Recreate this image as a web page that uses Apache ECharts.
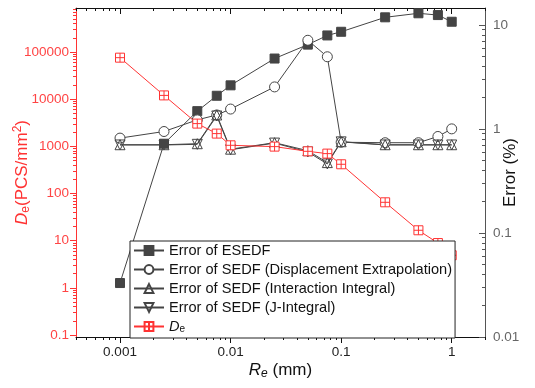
<!DOCTYPE html>
<html>
<head>
<meta charset="utf-8">
<script src="https://cdn.jsdelivr.net/npm/echarts@6/dist/echarts.min.js"></script>
<style>
html, body { margin: 0; padding: 0; background: #fff; }
#chart { width: 535px; height: 388px; }
</style>
</head>
<body>
<div id="chart"></div>
<script>
// Re (mm)
var re = [0.001, 0.0025, 0.005, 0.0075, 0.01, 0.025, 0.05, 0.075, 0.1, 0.25, 0.5, 0.75, 1]
// Error (%)
var errEsedf = [0.033, 0.72, 1.48, 2.08, 2.62, 4.74, 6.45, 7.9, 8.57, 11.8, 12.9, 12.4, 10.7]
var errDisp = [0.815, 0.943, 1.22, 1.36, 1.55, 2.53, 7.1, 4.93, 0.744, 0.736, 0.736, 0.845, 1.0]
var errInter = [0.704, 0.704, 0.72, 1.36, 0.638, 0.736, 0.617, 0.474, 0.752, 0.704, 0.704, 0.704, 0.704]
var errJ = [0.70, 0.70, 0.71, 1.33, 0.63, 0.73, 0.60, 0.46, 0.75, 0.70, 0.70, 0.70, 0.70]
// De (PCS/mm2)
var de = [75700, 12000, 3030, 1860, 1050, 985, 783, 700, 416, 65, 16.6, 8.9, 4.9]

// ticks
var xMajor = [0.001, 0.01, 0.1, 1]
var deMajor = [0.1, 1, 10, 100, 1000, 10000, 100000]
var errMajor = [0.01, 0.1, 1, 10]

var xRange = [0.0004, 2]
var deRange = [0.0907, 855000]
var errRange = [0.01, 14.5]

function minors (lo, hi) {
  var res = []
  for (var k = -5; k <= 6; k++) {
    for (var d = 2; d <= 9; d++) {
      var v = +(d * Math.pow(10, k)).toPrecision(6)
      if (v >= lo && v <= hi) res.push(v)
    }
  }
  return res
}

var RED = '#f33'
var GREY = '#444'
var FONT = 'Arial, "Liberation Sans", sans-serif'

function fmt (v) { return String(+(+v).toPrecision(6)) }

function logAxis (range, opt) {
  var base = {
    type: 'log',
    logBase: 10,
    min: range[0],
    max: range[1],
    splitLine: { show: false },
    axisLine: { show: false },
    axisLabel: { show: false },
    axisTick: { show: true },
    axisPointer: { show: false }
  }
  return Object.assign(base, opt)
}

var chart = echarts.init(document.getElementById('chart'))
var sym = 10

var option = {
  animation: false,
  grid: { left: 76, right: 50, top: 8, bottom: 51, containLabel: false, outerBoundsMode: 'none' },
  textStyle: { fontFamily: FONT },
  legend: {
    orient: 'vertical',
    left: 130,
    top: 241,
    padding: [2, 3, 4, 3],
    itemGap: 4,
    itemWidth: 30,
    itemHeight: 11,
    backgroundColor: '#fff',
    borderColor: '#222',
    borderWidth: 1,
    textStyle: {
      fontFamily: FONT, fontSize: 14.6, color: '#111', lineHeight: 15,
      rich: {
        i: { fontFamily: FONT, fontSize: 14.6, fontStyle: 'italic', color: '#111', lineHeight: 15 },
        s: { fontFamily: FONT, fontSize: 10, color: '#111', lineHeight: 8, verticalAlign: 'bottom' }
      }
    },
    formatter: function (name) {
      if (name === 'De') return '{i|D}{s|e}'
      return name
    },
    data: ['Error of ESEDF', 'Error of SEDF (Displacement Extrapolation)',
      'Error of SEDF (Interaction Integral)', 'Error of SEDF (J-Integral)', 'De']
  },
  xAxis: [
    logAxis(xRange, {
      position: 'bottom',
      axisLine: { show: true, lineStyle: { color: '#111', width: 1 } },
      axisTick: { show: true, length: 6, customValues: xMajor, lineStyle: { color: '#111' } },
      axisLabel: { show: true, customValues: xMajor, formatter: fmt, color: '#222', fontSize: 13.5, fontFamily: FONT, margin: 8 },
      name: '{i|R}{s|e} (mm)',
      nameLocation: 'middle',
      nameGap: 23,
      nameMoveOverlap: false,
      nameTextStyle: {
        color: '#111', fontSize: 17, fontFamily: FONT,
        rich: {
          i: { fontSize: 17, fontStyle: 'italic', fontFamily: FONT, color: '#111', lineHeight: 20 },
          s: { fontSize: 12, fontStyle: 'italic', fontFamily: FONT, color: '#111', lineHeight: 10, verticalAlign: 'bottom' }
        }
      }
    }),
    logAxis(xRange, {
      position: 'bottom',
      axisTick: { show: true, length: 3, customValues: minors(xRange[0], xRange[1]), lineStyle: { color: '#111' } }
    }),
    logAxis(xRange, {
      position: 'top',
      axisLine: { show: true, lineStyle: { color: '#111', width: 1 } },
      axisTick: { show: true, inside: true, length: 6, customValues: xMajor, lineStyle: { color: '#111' } }
    }),
    logAxis(xRange, {
      position: 'top',
      axisTick: { show: true, inside: true, length: 3, customValues: minors(xRange[0], xRange[1]), lineStyle: { color: '#111' } }
    })
  ],
  yAxis: [
    logAxis(deRange, {
      position: 'left',
      axisLine: { show: true, lineStyle: { color: RED, width: 1 } },
      axisTick: { show: true, length: 6, customValues: deMajor, lineStyle: { color: RED } },
      axisLabel: { show: true, customValues: deMajor, formatter: fmt, color: '#f44', fontSize: 13.5, fontFamily: FONT, margin: 7 },
      name: '{i|D}{s|e}{n|(PCS/mm}{p|2}{n|)}',
      nameLocation: 'middle',
      nameRotate: 90,
      nameGap: 44,
      nameMoveOverlap: false,
      nameTextStyle: {
        color: RED, fontSize: 17, fontFamily: FONT,
        rich: {
          i: { fontSize: 17, fontStyle: 'italic', fontFamily: FONT, color: RED, lineHeight: 20 },
          n: { fontSize: 17, fontFamily: FONT, color: RED, lineHeight: 20 },
          s: { fontSize: 12, fontFamily: FONT, color: RED, lineHeight: 10, verticalAlign: 'bottom' },
          p: { fontSize: 12, fontFamily: FONT, color: RED, lineHeight: 10, verticalAlign: 'top' }
        }
      }
    }),
    logAxis(deRange, {
      position: 'left',
      axisTick: { show: true, length: 3, customValues: minors(deRange[0], deRange[1]), lineStyle: { color: RED } }
    }),
    logAxis(errRange, {
      position: 'right',
      axisLine: { show: true, lineStyle: { color: '#555', width: 1 } },
      axisTick: { show: true, inside: true, length: 6, customValues: errMajor, lineStyle: { color: '#555' } },
      axisLabel: { show: true, customValues: errMajor, formatter: fmt, color: '#666', fontSize: 13.5, fontFamily: FONT, margin: 8 },
      name: 'Error (%)',
      nameLocation: 'middle',
      nameRotate: 90,
      nameGap: 17,
      nameMoveOverlap: false,
      nameTextStyle: { color: '#111', fontSize: 17, fontFamily: FONT }
    }),
    logAxis(errRange, {
      position: 'right',
      axisTick: { show: true, inside: true, length: 3, customValues: minors(errRange[0], errRange[1]), lineStyle: { color: '#555' } }
    })
  ],
  series: [
    {
      name: 'Error of ESEDF',
      type: 'line',
      xAxisIndex: 0,
      yAxisIndex: 2,
      data: re.map(function (x, i) { return [x, errEsedf[i]] }),
      symbol: 'rect',
      symbolSize: 9,
      lineStyle: { color: GREY, width: 1 },
      itemStyle: { color: GREY, borderColor: GREY, borderWidth: 1 }
    },
    {
      name: 'Error of SEDF (Displacement Extrapolation)',
      type: 'line',
      xAxisIndex: 0,
      yAxisIndex: 2,
      data: re.map(function (x, i) { return [x, errDisp[i]] }),
      symbol: 'circle',
      symbolSize: sym,
      showAllSymbol: true,
      lineStyle: { color: GREY, width: 1 },
      itemStyle: { color: '#fff', borderColor: GREY, borderWidth: 1 }
    },
    {
      name: 'Error of SEDF (Interaction Integral)',
      type: 'line',
      xAxisIndex: 0,
      yAxisIndex: 2,
      data: re.map(function (x, i) { return [x, errInter[i]] }),
      symbol: 'triangle',
      symbolSize: sym,
      lineStyle: { color: GREY, width: 1 },
      itemStyle: { color: 'rgba(255,255,255,0)', borderColor: GREY, borderWidth: 1 }
    },
    {
      name: 'Error of SEDF (J-Integral)',
      type: 'line',
      xAxisIndex: 0,
      yAxisIndex: 2,
      data: re.map(function (x, i) { return [x, errJ[i]] }),
      symbol: 'triangle',
      symbolRotate: 180,
      symbolSize: sym,
      lineStyle: { color: GREY, width: 1 },
      itemStyle: { color: 'rgba(255,255,255,0)', borderColor: GREY, borderWidth: 1 }
    },
    {
      name: 'De',
      type: 'line',
      xAxisIndex: 0,
      yAxisIndex: 0,
      data: re.map(function (x, i) { return [x, de[i]] }),
      symbol: 'path://M0,0L10,0L10,10L0,10ZM5,0L5,10M0,5L10,5',
      symbolSize: 9,
      lineStyle: { color: RED, width: 1 },
      itemStyle: { color: '#fff', borderColor: RED, borderWidth: 1 }
    }
  ]
}
chart.setOption(option)
</script>
</body>
</html>
